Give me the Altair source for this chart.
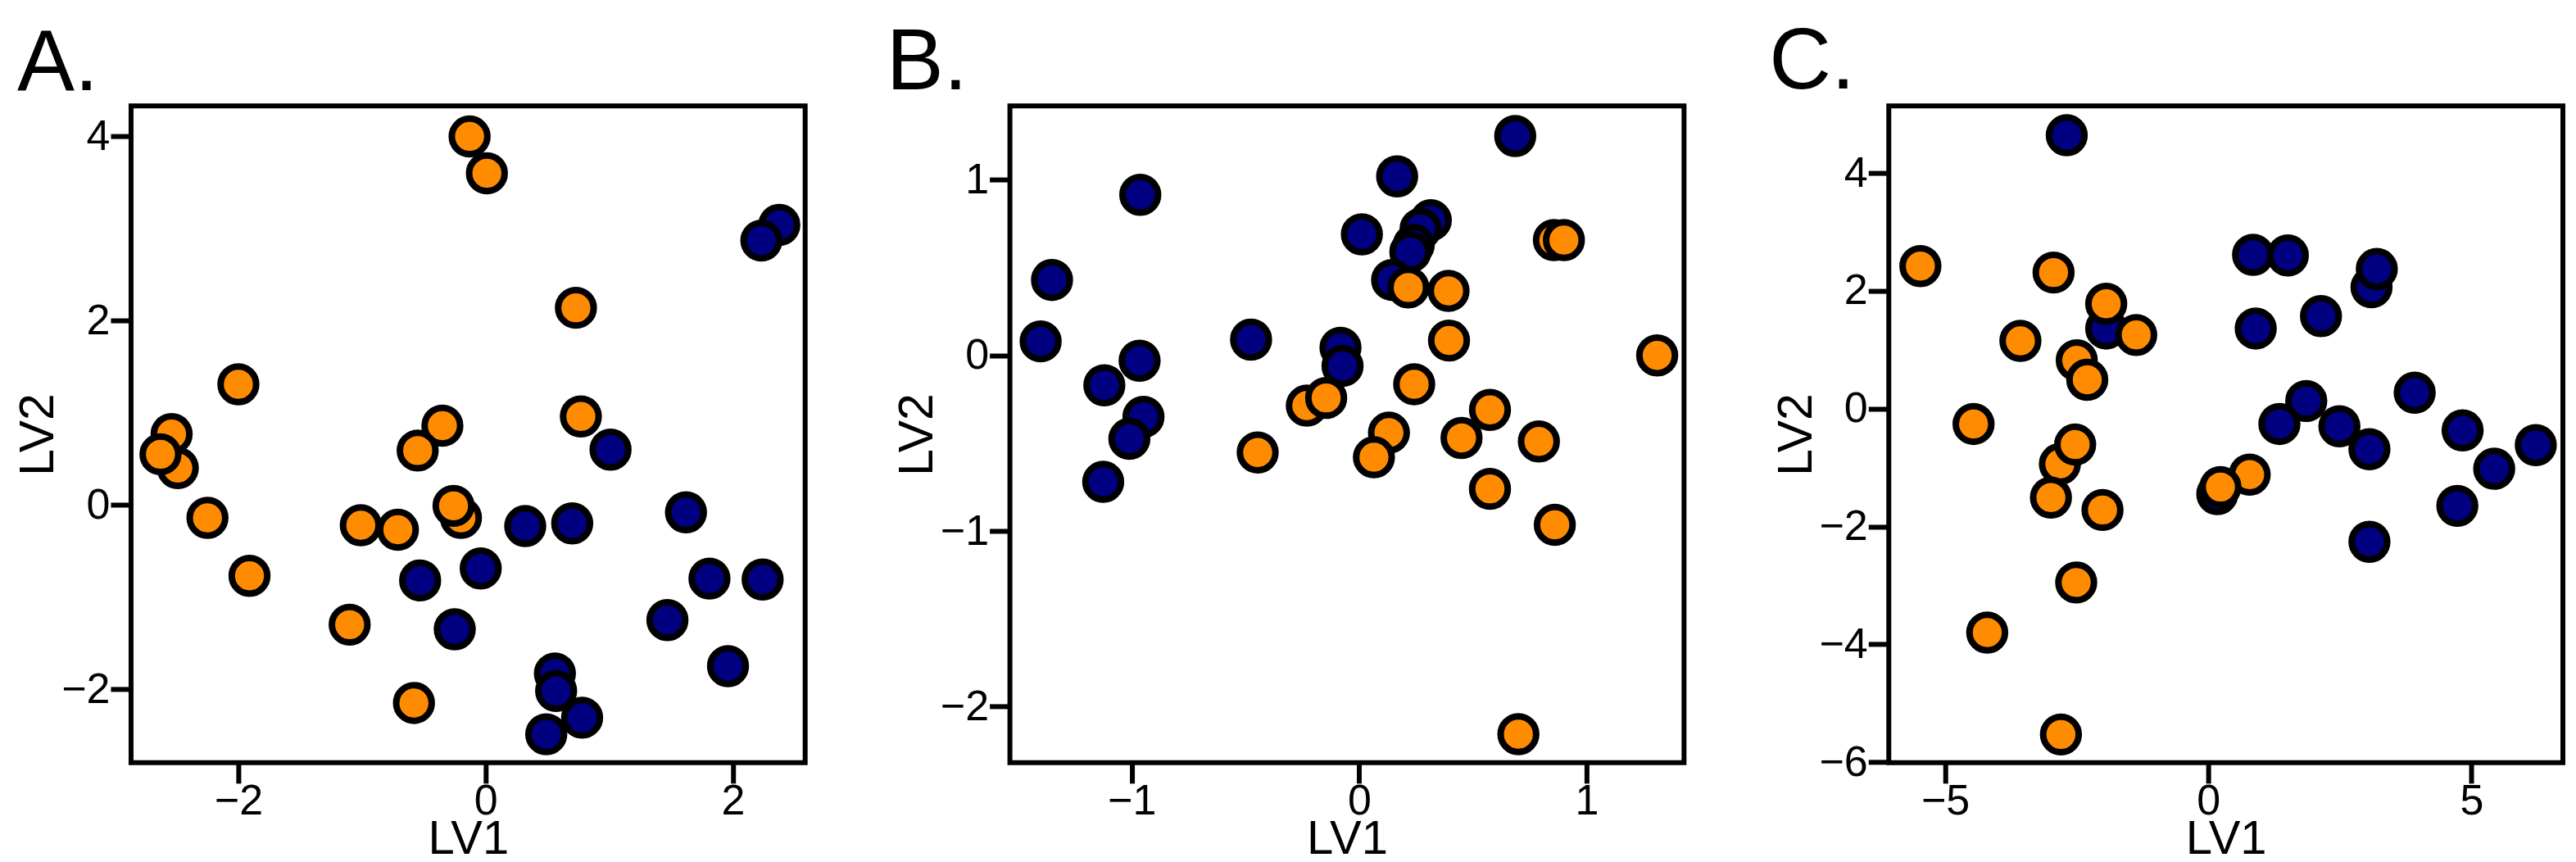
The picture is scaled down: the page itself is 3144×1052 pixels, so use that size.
import altair as alt
import pandas as pd

# ---------------- data ----------------
# Panel A
a_blue_x = [2.375, 2.23, 1.01, 0.32, 0.70, 1.62, -0.53, -0.04, -0.25, 1.47, 1.81, 2.24, 1.96, 0.56, 0.57, 0.78, 0.49]
a_blue_y = [3.04, 2.87, 0.60, -0.23, -0.20, -0.08, -0.82, -0.69, -1.35, -1.25, -0.80, -0.81, -1.75, -1.83, -2.02, -2.31, -2.49]
a_orange_x = [-0.13, 0.01, 0.73, -2.0, 0.77, -2.54, -2.49, -2.63, -0.35, -0.55, -2.25, -1.91, -1.01, -0.71, -0.20, -0.26, -1.10, -0.58]
a_orange_y = [4.0, 3.6, 2.14, 1.31, 0.96, 0.77, 0.40, 0.55, 0.86, 0.59, -0.14, -0.77, -0.22, -0.27, -0.14, -0.01, -1.30, -2.15]

# Panel B
b_blue_x = [0.686, 0.167, -0.962, 0.012, 0.315, 0.27, 0.24, 0.225, 0.145, -1.35, -1.40, -0.475, -0.082, -0.073, -0.965, -1.12, -0.948, -1.01, -1.125]
b_blue_y = [1.25, 1.02, 0.915, 0.69, 0.77, 0.72, 0.63, 0.59, 0.43, 0.43, 0.08, 0.09, 0.044, -0.06, -0.03, -0.17, -0.35, -0.475, -0.72]
b_orange_x = [0.856, 0.90, 0.216, 0.393, 0.395, 1.31, 0.242, -0.23, -0.145, 0.131, 0.065, -0.446, 0.45, 0.575, 0.575, 0.79, 0.86, 0.70]
b_orange_y = [0.657, 0.657, 0.387, 0.368, 0.085, 0.0, -0.164, -0.286, -0.242, -0.44, -0.58, -0.553, -0.47, -0.31, -0.76, -0.49, -0.965, -2.157]

# Panel C
c_blue_x = [-2.69, 0.85, 1.51, 3.10, 3.20, 0.90, 2.14, -1.94, 1.86, 3.92, 1.35, 2.49, 3.06, 4.83, 5.43, 6.22, 4.73, 3.06, 0.17]
c_blue_y = [4.64, 2.61, 2.60, 2.06, 2.37, 1.36, 1.57, 1.36, 0.13, 0.27, -0.26, -0.30, -0.69, -0.37, -1.02, -0.62, -1.65, -2.26, -1.45]
c_orange_x = [-5.47, -2.94, -1.94, -3.57, -1.37, -2.50, -2.30, -4.46, -2.82, -2.53, -2.99, -2.01, 0.785, 0.23, -2.51, -4.2, -2.80]
c_orange_y = [2.42, 2.31, 1.78, 1.15, 1.25, 0.82, 0.49, -0.26, -0.94, -0.61, -1.51, -1.72, -1.12, -1.33, -2.95, -3.80, -5.53]

panels = [
    dict(name="A.", bx=a_blue_x, by=a_blue_y, ox=a_orange_x, oy=a_orange_y,
         xdom=[-2.868, 2.584], ydom=[-2.799, 4.333], xt=[-2, 0, 2], yt=[-2, 0, 2, 4], dx=-139),
    dict(name="B.", bx=b_blue_x, by=b_blue_y, ox=b_orange_x, oy=b_orange_y,
         xdom=[-1.535, 1.428], ydom=[-2.320, 1.422], xt=[-1, 0, 1], yt=[-2, -1, 0, 1], dx=-151),
    dict(name="C.", bx=c_blue_x, by=c_blue_y, ox=c_orange_x, oy=c_orange_y,
         xdom=[-6.07, 6.735], ydom=[-6.01, 5.14], xt=[-5, 0, 5], yt=[-6, -4, -2, 0, 2, 4], dx=-146),
]

FONT = "Liberation Sans"
W, H = 823, 802

charts = []
for p in panels:
    df = pd.DataFrame({
        "LV1": list(p["bx"]) + list(p["ox"]),
        "LV2": list(p["by"]) + list(p["oy"]),
        "group": ["g1"] * len(p["bx"]) + ["g2"] * len(p["ox"]),
    })
    c = alt.Chart(df).mark_circle(
        size=1886, opacity=1, stroke="black", strokeWidth=8
    ).encode(
        x=alt.X("LV1:Q", scale=alt.Scale(domain=p["xdom"], nice=False, zero=False),
                axis=alt.Axis(values=p["xt"], title="LV1", grid=False, domain=False,
                              tickSize=25, tickWidth=6, tickColor="black",
                              labelFontSize=52, labelFont=FONT, labelColor="black",
                              labelPadding=-3, labelFlush=False,
                              titleFontSize=58, titleFont=FONT, titleFontWeight="normal",
                              titleColor="black", titleX=W / 2, titleY=111,
                              titleBaseline="alphabetic", titleAlign="center")),
        y=alt.Y("LV2:Q", scale=alt.Scale(domain=p["ydom"], nice=False, zero=False),
                axis=alt.Axis(values=p["yt"], title="LV2", grid=False, domain=False,
                              tickSize=25, tickWidth=6, tickColor="black",
                              labelFontSize=52, labelFont=FONT, labelColor="black",
                              labelPadding=1, labelFlush=False,
                              titleFontSize=59, titleFont=FONT, titleFontWeight="normal",
                              titleColor="black", titleX=-95, titleY=H / 2,
                              titleAngle=270, titleBaseline="alphabetic", titleAlign="center")),
        color=alt.Color("group:N", scale=alt.Scale(domain=["g1", "g2"], range=["#000080", "#FF8C00"]),
                        legend=None),
    ).properties(
        width=W, height=H,
        title=alt.TitleParams(text=p["name"], anchor="start", frame="group", dx=p["dx"],
                              offset=-86, baseline="alphabetic", fontSize=105, font=FONT,
                              fontWeight="normal", color="black"),
    )
    charts.append(c)

chart = alt.hconcat(*charts, spacing=250, bounds="flush").configure(
    padding={"left": 7, "top": 13, "right": 0, "bottom": 0}, background="white"
).configure_view(
    stroke="black", strokeWidth=6
)

chart.save("out.html", embed_options={"renderer": "svg", "actions": False})
